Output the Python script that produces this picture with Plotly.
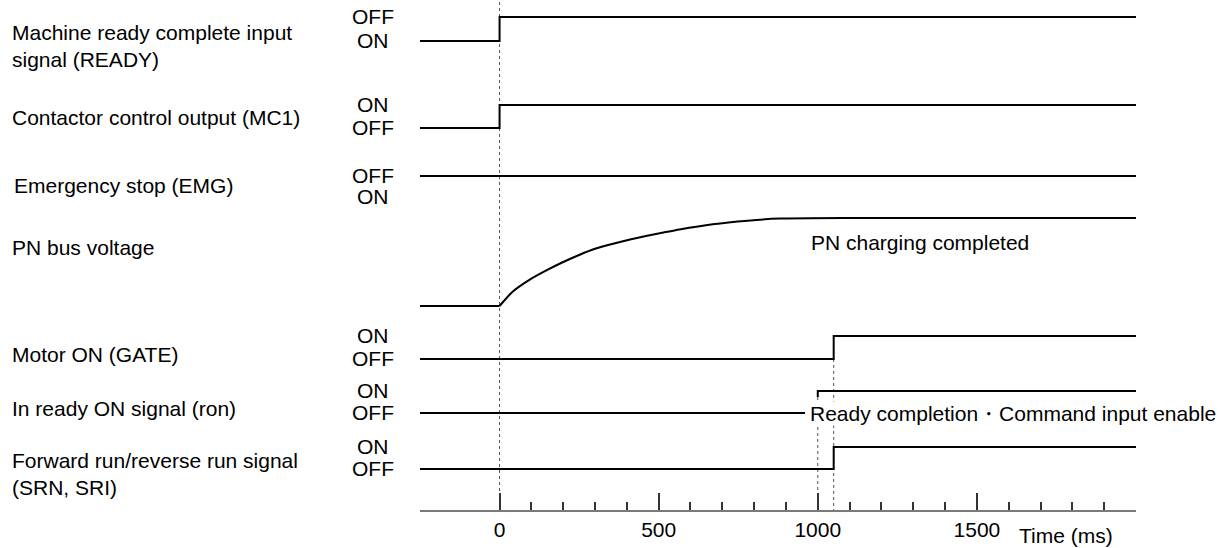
import plotly.graph_objects as go

# ==================== DATA (time in ms, level 0 = lower trace, 1 = upper trace) ====================
ready_t = [-250, 0, 2000]
ready_lv = [0, 1, 1]

mc1_t = [-250, 0, 2000]
mc1_lv = [0, 1, 1]

emg_t = [-250, 2000]
emg_lv = [1, 1]

# PN bus voltage: flat before power-up, then the charging curve
pn_pre_t = [-250, 0]
pn_pre_lv = [0, 0]
pn_t = [0, 40, 95, 150, 200, 250, 300, 360, 410, 460, 515, 565, 670, 780, 880, 1100, 2000]
pn_lv = [0, 0.16, 0.30, 0.41, 0.50, 0.58, 0.65, 0.71, 0.755, 0.795, 0.835, 0.87, 0.93, 0.97, 0.993, 1.0, 1.0]

gate_t = [-250, 1050, 2000]
gate_lv = [0, 1, 1]

ron_off_t = [-250, 960]
ron_off_lv = [0, 0]
ron_on_t = [1000, 1000, 2000]
ron_on_lv = [0.73, 1, 1]

srn_t = [-250, 1050, 2000]
srn_lv = [0, 1, 1]

signal_names = [
    "Machine ready complete input<br>signal (READY)",
    "Contactor control output (MC1)",
    "Emergency stop (EMG)",
    "PN bus voltage",
    "Motor ON (GATE)",
    "In ready ON signal (ron)",
    "Forward run/reverse run signal<br>(SRN, SRI)",
]
# (upper state, lower state) per row, None where the row has no state labels
state_labels = [
    ("OFF", "ON"),
    ("ON", "OFF"),
    ("OFF", "ON"),
    None,
    ("ON", "OFF"),
    ("ON", "OFF"),
    ("ON", "OFF"),
]

guide_times = [0, 1000, 1050]
major_ticks = [0, 500, 1000, 1500, 2000]
major_text = ["0", "500", "1000", "1500", ""]
minor_ticks = [100, 200, 300, 400, 600, 700, 800, 900,
               1100, 1200, 1300, 1400, 1600, 1700, 1800, 1900]

charged_note = "PN charging completed"
ready_note = "Ready completion・Command input enable"
axis_title = "Time (ms)"

# ==================== LAYOUT GEOMETRY (pixels) ====================
FONT = "Arial, 'Liberation Sans', sans-serif"
FS = 21
W, H = 1224, 548
PLOT_L, PLOT_R = 420, 1136
AXIS_Y = 510

# row baseline (lower trace y) and swing in px
row_base = [41, 128, 197, 306, 359, 413, 469]
row_amp = [24, 23, 21, 88, 23, 22, 22]
name_y = [45.5, 117, 185, 247, 354, 408, 473.5]
name_x = [10, 10, 12, 10, 10, 10, 10]
STATE_X = 373


def px_x(p):
    return (p - PLOT_L) / (PLOT_R - PLOT_L)


def lv_to_y(levels, row):
    return [row_base[row] - lv * row_amp[row] for lv in levels]


step_traces = [
    (ready_t, ready_lv, 0),
    (mc1_t, mc1_lv, 1),
    (emg_t, emg_lv, 2),
    (pn_pre_t, pn_pre_lv, 3),
    (gate_t, gate_lv, 4),
    (ron_off_t, ron_off_lv, 5),
    (ron_on_t, ron_on_lv, 5),
    (srn_t, srn_lv, 6),
]

fig = go.Figure()

for t, lv, row in step_traces:
    fig.add_trace(go.Scatter(
        x=t, y=lv_to_y(lv, row), mode="lines",
        line=dict(color="black", width=2, shape="hv"),
        showlegend=False, hoverinfo="skip",
    ))

fig.add_trace(go.Scatter(
    x=pn_t, y=lv_to_y(pn_lv, 3), mode="lines",
    line=dict(color="black", width=2, shape="spline", smoothing=0.6),
    showlegend=False, hoverinfo="skip",
))

# dotted guide lines
guide_top = [2, 397, 359]
for t, top in zip(guide_times, guide_top):
    fig.add_shape(type="line", xref="x", yref="y", x0=t, x1=t, y0=top, y1=AXIS_Y,
                  line=dict(color="#555555", width=1, dash="dot"), layer="below")

annotations = []
for name, y, x in zip(signal_names, name_y, name_x):
    annotations.append(dict(
        text=name, xref="paper", yref="y", x=px_x(x), y=y,
        xanchor="left", yanchor="middle", align="left", showarrow=False,
        font=dict(family=FONT, size=FS, color="black"),
    ))

for row, labels in enumerate(state_labels):
    if labels is None:
        continue
    upper, lower = labels
    for text, y in ((upper, row_base[row] - row_amp[row] - 1), (lower, row_base[row] - 1)):
        annotations.append(dict(
            text=text, xref="paper", yref="y", x=px_x(STATE_X), y=y,
            xanchor="center", yanchor="middle", showarrow=False,
            font=dict(family=FONT, size=FS, color="black"),
        ))

annotations.append(dict(
    text=charged_note, xref="x", yref="y", x=973, y=242,
    xanchor="left", yanchor="middle", showarrow=False,
    font=dict(family=FONT, size=FS, color="black"),
))
annotations.append(dict(
    text=ready_note, xref="x", yref="y", x=973, y=413,
    xanchor="left", yanchor="middle", showarrow=False, bgcolor="white", borderpad=0,
    font=dict(family=FONT, size=FS, color="black"),
))
annotations.append(dict(
    text=axis_title, xref="x", yref="paper", x=1780, y=(AXIS_Y - 535) / AXIS_Y,
    xanchor="center", yanchor="middle", showarrow=False,
    font=dict(family=FONT, size=FS, color="black"),
))

fig.update_layout(
    width=W, height=H,
    margin=dict(l=PLOT_L, r=W - PLOT_R, t=0, b=H - AXIS_Y),
    paper_bgcolor="white", plot_bgcolor="white",
    xaxis=dict(
        range=[-250, 2000], showgrid=False, zeroline=False,
        showline=True, linecolor="#7a7a7a", linewidth=2,
        ticks="inside", ticklen=17, tickwidth=1.5, tickcolor="#333333",
        tickmode="array", tickvals=major_ticks, ticktext=major_text,
        tickfont=dict(family=FONT, size=FS, color="black"),
        minor=dict(tickmode="array", tickvals=minor_ticks, ticks="inside",
                   ticklen=8, tickwidth=1.5, tickcolor="#333333", showgrid=False),
    ),
    yaxis=dict(range=[AXIS_Y, 0], visible=False),
    annotations=annotations,
)

fig.write_html("out.html", config={"displayModeBar": False},
               post_script="document.body.style.margin='0';")
